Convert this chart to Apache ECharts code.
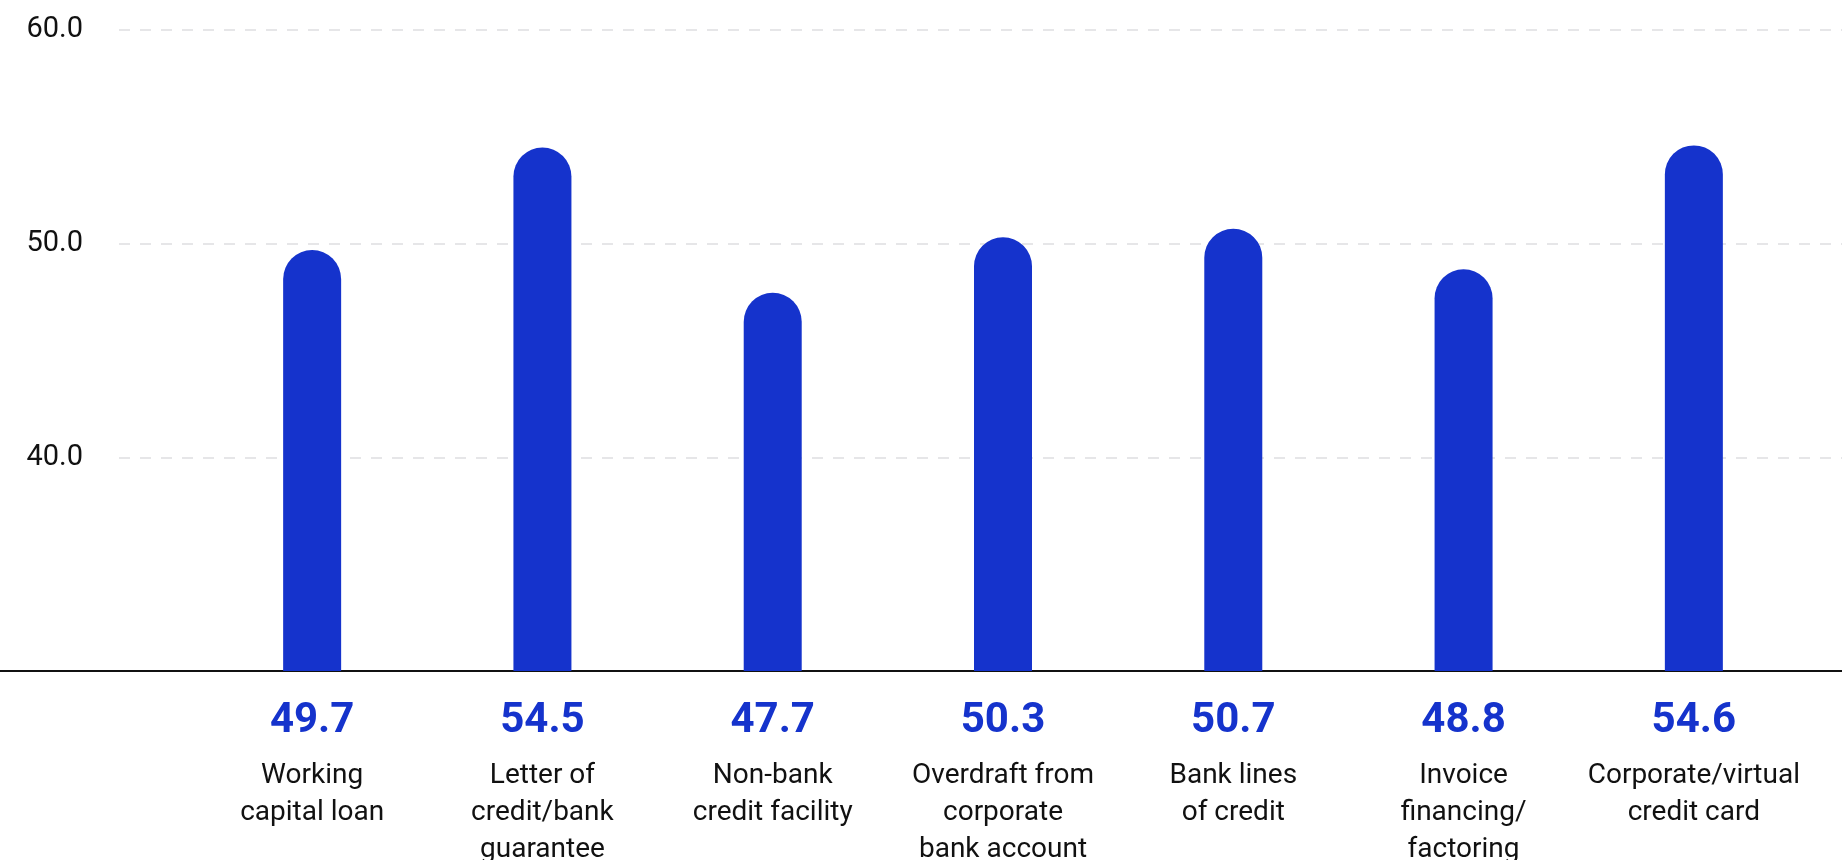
<!DOCTYPE html>
<html>
<head>
<meta charset="utf-8">
<script src="https://cdn.jsdelivr.net/npm/echarts@6/dist/echarts.min.js"></script>
<style>
  html, body { margin: 0; padding: 0; background: #fff; }
  #chart { width: 1842px; height: 860px; }
</style>
</head>
<body>
<div id="chart"></div>
<script>
  // categories / values
  var categories = [
    'Working\ncapital loan',
    'Letter of\ncredit/bank\nguarantee',
    'Non-bank\ncredit facility',
    'Overdraft from\ncorporate\nbank account',
    'Bank lines\nof credit',
    'Invoice\nfinancing/\nfactoring',
    'Corporate/virtual\ncredit card'
  ]
  var values = [49.7, 54.5, 47.7, 50.3, 50.7, 48.8, 54.6]
  var yTicks = [30, 40, 50, 60]

  var blue = '#1533cc'
  var font = 'Roboto, sans-serif'

  var chart = echarts.init(document.getElementById('chart'))
  chart.setOption({
    animation: false,
    // labels run off the bottom edge in the original, so don't let the grid shrink
    grid: [
      { left: 0, right: 0, top: 30, bottom: 189, outerBoundsMode: 'none' }, // baseline across the full width
      { left: 119, right: 0, top: 30, bottom: 189, outerBoundsMode: 'none' }, // y labels + dashed grid
      { left: 197, right: 33, top: 30, bottom: 189, outerBoundsMode: 'none' } // bars
    ],
    xAxis: [{
      gridIndex: 0,
      type: 'value',
      min: 0,
      max: 1,
      axisLine: { show: true, lineStyle: { color: '#111', width: 2 } },
      axisTick: { show: false },
      axisLabel: { show: false },
      splitLine: { show: false }
    }, {
      gridIndex: 1,
      type: 'value',
      show: false
    }, {
      gridIndex: 2,
      type: 'category',
      data: categories,
      axisLine: { show: false },
      axisTick: { show: false },
      axisLabel: {
        interval: 0,
        margin: 14,
        formatter: function(name, idx) {
          return '{v|' + values[idx].toFixed(1) + '}\n{c|' + name + '}'
        },
        rich: {
          v: {
            fontFamily: font,
            fontWeight: 'bold',
            fontSize: 42,
            color: blue,
            lineHeight: 72
          },
          c: {
            fontFamily: font,
            fontSize: 28,
            color: '#111',
            lineHeight: 37
          }
        }
      }
    }],
    yAxis: [{
      gridIndex: 0,
      type: 'value',
      min: yTicks[0],
      max: yTicks[yTicks.length - 1],
      interval: 10,
      show: false
    }, {
      gridIndex: 1,
      type: 'value',
      min: yTicks[0],
      max: yTicks[yTicks.length - 1],
      interval: 10,
      axisLine: { show: false },
      axisTick: { show: false },
      axisLabel: {
        showMinLabel: false,
        margin: 36,
        fontFamily: font,
        fontSize: 29,
        color: '#111',
        formatter: function(v) { return v.toFixed(1) }
      },
      splitLine: {
        show: true,
        lineStyle: { color: '#e6e6e8', width: 2, type: [11, 10] }
      }
    }, {
      gridIndex: 2,
      type: 'value',
      min: yTicks[0],
      max: yTicks[yTicks.length - 1],
      interval: 10,
      show: false
    }],
    series: [{
      type: 'bar',
      xAxisIndex: 2,
      yAxisIndex: 2,
      data: values,
      barWidth: 58,
      itemStyle: { color: blue, borderRadius: [29, 29, 0, 0] }
    }]
  })
</script>
</body>
</html>
